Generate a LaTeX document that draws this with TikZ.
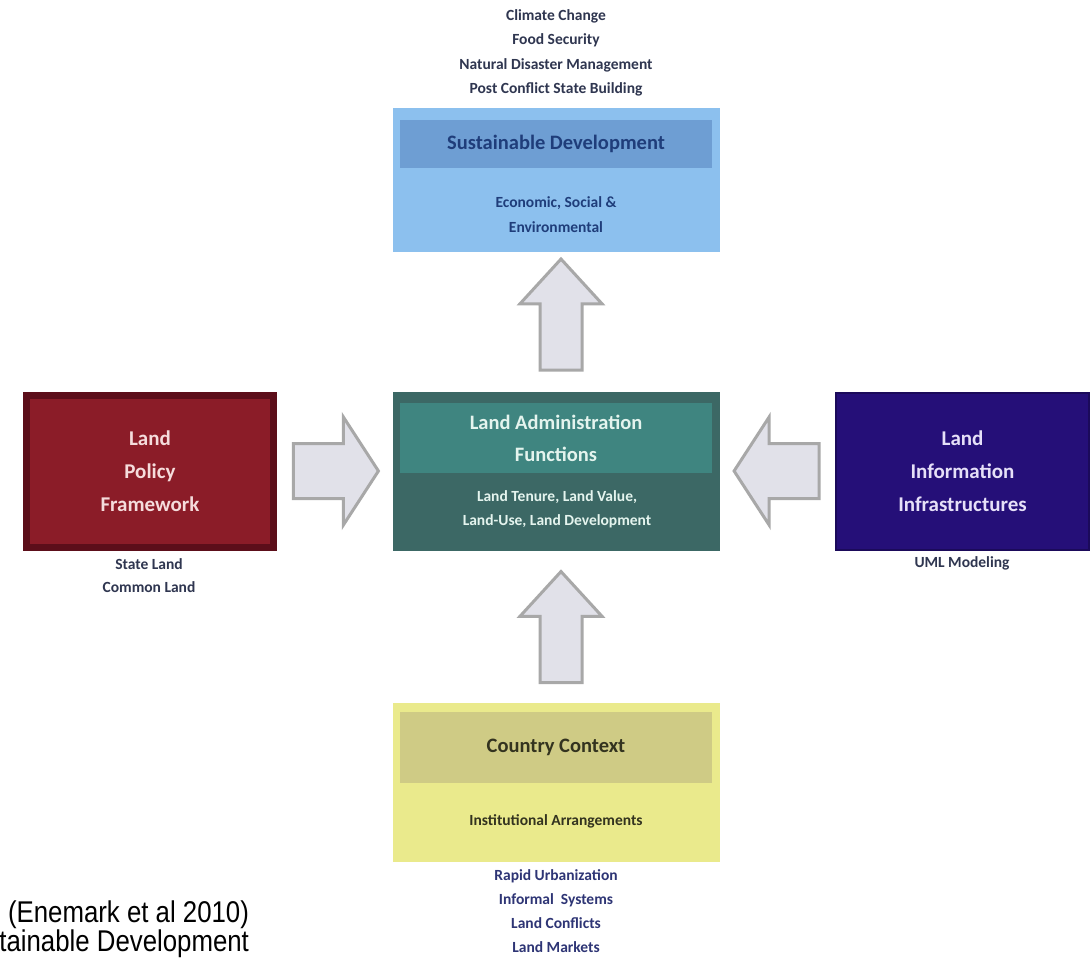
\documentclass[tikz,border=0pt]{standalone}
\usepackage{fontspec}
\setmainfont{Carlito}
\newfontfamily\citefont{Liberation Sans}
\usepackage{xcolor}
\usepackage{tikz}
\usetikzlibrary{shapes.arrows,positioning}

\definecolor{sdouter}{HTML}{8CC0EE}
\definecolor{sdband}{HTML}{6E9ED3}
\definecolor{sdtext}{HTML}{1F3D7A}
\definecolor{laouter}{HTML}{3C6865}
\definecolor{laband}{HTML}{3F8580}
\definecolor{latext}{HTML}{E4F4EE}
\definecolor{lpfill}{HTML}{8B1C28}
\definecolor{lpedge}{HTML}{5C0E1A}
\definecolor{lptext}{HTML}{F5DCDC}
\definecolor{lifill}{HTML}{250F78}
\definecolor{liedge}{HTML}{1B0A5A}
\definecolor{litext}{HTML}{E6E0F8}
\definecolor{ccouter}{HTML}{EAEA8C}
\definecolor{ccband}{HTML}{CFCB85}
\definecolor{cctext}{HTML}{33331F}
\definecolor{issuetext}{HTML}{2F3650}
\definecolor{navytext}{HTML}{2E3575}
\definecolor{arrowfill}{HTML}{E1E1E9}
\definecolor{arrowline}{HTML}{A8A8A8}

\begin{document}
\begin{tikzpicture}[
  x=1pt,y=-1pt,
  outer/.style={minimum width=327pt,minimum height=159pt,inner sep=0pt},
  band/.style={minimum width=312pt,inner sep=0pt,align=center,font=\fontsize{20.5}{32}\selectfont\bfseries},
  small/.style={align=center,font=\fontsize{15.5}{24.5}\selectfont\bfseries},
  side/.style={minimum width=247pt,minimum height=152pt,line width=7pt,inner sep=0pt,align=center,font=\fontsize{21}{33}\selectfont\bfseries},
  fatup/.style={single arrow,draw=arrowline,fill=arrowfill,line width=3pt,inner sep=19.5pt,
    single arrow head extend=20pt,single arrow tip angle=85,minimum height=111pt,shape border rotate=90},
  fatside/.style={single arrow,draw=arrowline,fill=arrowfill,line width=3pt,inner sep=26pt,
    single arrow head extend=26.5pt,single arrow tip angle=114,minimum height=85pt}
]
\useasboundingbox[fill=white] (0,0) rectangle (1092,960);

% sustainable development
\node[small,text=issuetext] (sdissues) at (556,53) {Climate Change\\Food Security\\Natural Disaster Management\\Post Conflict State Building};
\node[outer,minimum height=144pt,fill=sdouter] (sd) at (556.5,180) {};
\node[band,minimum height=48pt,fill=sdband,text=sdtext] (sdhead) at (556,144) {Sustainable Development};
\node[small,text=sdtext,font=\fontsize{15.5}{25}\selectfont\bfseries] (sdsub) at (556,214.5) {Economic, Social \&\\Environmental};

% land administration functions
\node[outer,fill=laouter] (la) at (556.5,471.5) {};
\node[band,minimum height=70pt,fill=laband,text=latext] (lahead) at (556,438) {Land Administration\\Functions};
\node[small,text=latext] (lasub) at (557,509.5) {Land Tenure, Land Value,\\Land-Use, Land Development};

% land policy framework
\node[side,fill=lpfill,draw=lpedge,text=lptext] (lp) at (150,471.5) {Land\\Policy\\Framework};
\node[small,text=issuetext,font=\fontsize{15.5}{23}\selectfont\bfseries] (lpsub) at (149,575.5) {State Land\\Common Land};

% land information infrastructures
\node[side,line width=2pt,minimum width=253pt,minimum height=157pt,fill=lifill,draw=liedge,text=litext] (li) at (962.5,471.5) {Land\\Information\\Infrastructures};
\node[small,text=issuetext] (lisub) at (962,563) {UML Modeling};

% country context
\node[outer,fill=ccouter] (cc) at (556.5,782.5) {};
\node[band,minimum height=71pt,fill=ccband,text=cctext] (cchead) at (556,747.5) {Country Context};
\node[small,text=cctext] (ccsub) at (556,821) {Institutional Arrangements};
\node[small,text=navytext,font=\fontsize{15.5}{24}\selectfont\bfseries] (ccissues) at (556,911) {Rapid Urbanization\\Informal\ \ Systems\\Land Conflicts\\Land Markets};

% block arrows
\node[fatup] (upsd) at (561,326) {};
\node[fatup] (upla) at (561,638.5) {};
\node[fatside] (fromlp) at (327,471) {};
\node[fatside,shape border rotate=180] (fromli) at (785.5,471) {};

% source
\node[anchor=north east,align=right,font=\citefont\fontsize{30}{27}\selectfont,xscale=0.86,transform shape] (source) at (252,897) {(Enemark et al 2010)\\tainable Development};
\end{tikzpicture}
\end{document}
